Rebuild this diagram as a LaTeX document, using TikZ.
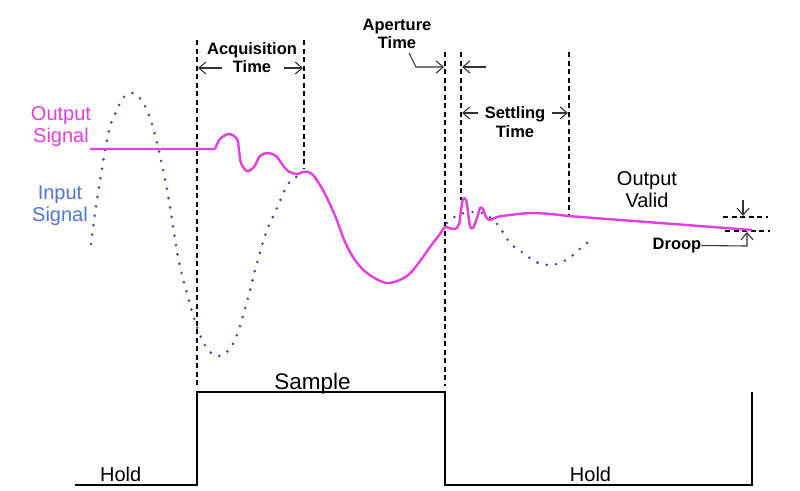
\documentclass[tikz,border=0pt]{standalone}
\usepackage{fontspec}
\setmainfont{Liberation Sans}
\usetikzlibrary{arrows.meta}
\definecolor{mag}{RGB}{226,62,226}
\definecolor{inblue}{RGB}{82,118,216}
\definecolor{dotc}{RGB}{70,72,160}
\begin{document}
\begin{tikzpicture}[x=1pt,y=-1pt,
  guide/.style={line width=1.7pt, dash pattern=on 5pt off 3.5pt},
  dim/.style={line width=1.1pt, draw=black!80, -{Straight Barb[length=7pt,width=12pt,line width=1.1pt]}},
  lbl/.style={font=\fontsize{16.5}{18.5}\selectfont\bfseries, align=center, inner sep=0pt},
  sig/.style={font=\fontsize{20}{22}\selectfont, align=center, inner sep=0pt},
  wave/.style={line width=1.6pt},
  outsig/.style={draw=mag, line width=2.4pt, line join=round},
  insig/.style={draw=dotc, line width=2.9pt, line cap=round, dash pattern=on 0pt off 9.5pt}]
\useasboundingbox[fill=white] (0,0) rectangle (800,490);

% guide lines
\coordinate (g1t) at (197,40);  \coordinate (g1b) at (197,385);
\coordinate (g2t) at (304,40);  \coordinate (g2b) at (304,168);
\coordinate (g3t) at (445,52);  \coordinate (g3b) at (445,386);
\coordinate (g4t) at (461,52);  \coordinate (g4b) at (461,200);
\coordinate (g5t) at (569,52);  \coordinate (g5b) at (569,216);
\coordinate (dr1a) at (723,217); \coordinate (dr1b) at (768,217);
\coordinate (dr2a) at (725,231); \coordinate (dr2b) at (770,231);
\foreach \a/\b in {g1t/g1b,g2t/g2b,g3t/g3b,g4t/g4b,g5t/g5b,dr1a/dr1b,dr2a/dr2b}
  \draw[guide] (\a) -- (\b);

% input signal (dotted)
\draw[insig] plot[smooth, tension=0.6] coordinates {
  (91,244) (97,200) (108,135) (116,112) (124,97) (133,93) (142,101) (150,118)
  (158,147) (168,195) (178,257) (188,297) (197,327) (206,347) (217,356) (229,350)
  (238,332) (248,298) (257,263) (266,233) (277,208) (288,184) (298,176)};
\draw[insig] plot[smooth, tension=0.6] coordinates {
  (447,223) (458,215) (472,212) (485,214) (498,225) (510,243) (522,252) (536,262)
  (548,265) (560,263) (572,256) (583,246) (592,239)};

% output signal
\draw[outsig] (90,149) -- (215,149) plot[smooth, tension=0.55] coordinates {
  (215,149) (220,139) (229,134) (237,139) (239,150) (241,163)
  (247,171) (254,167) (260,156) (268,153) (276,156)
  (282,164) (288,171) (297,174) (303,172) (308,172) (313,175) (320,185) (327,198)
  (336,218) (345,242) (355,260) (367,273) (387,283) (407,276) (420,261) (430,247)
  (440,234) (445,227) (449,228) (455,229) (459,224) (461,210) (463,199) (466,200)
  (468,212) (470,226) (473,228) (477,218) (480,208) (483,209) (486,217) (490,220)
  (497,217) (510,215) (530,213) (550,214) (568,216)} -- (752,230);

% square wave
\draw[wave] (75,485) -- (197,485) -- (197,392) -- (445,392) -- (445,485)
  -- (752,485) -- (752,392);

% labels
\node[lbl] (acq) at (252,57.5) {Acquisition\\Time};
\node[lbl] (ape) at (397,34) {Aperture\\Time};
\node[lbl] (set) at (515,122) {Settling\\Time};
\node[lbl, font=\fontsize{16.5}{18}\selectfont\bfseries] (droop) at (677,245.5) {Droop};
\node[sig, text=mag] (outl) at (61,127) {Output\\Signal};
\node[sig, text=inblue] (inl) at (60,206) {Input\\Signal};
\node[sig] (valid) at (647,190) {Output\\Valid};
\node[font=\fontsize{22.5}{24}\selectfont, inner sep=0pt, anchor=base] (samp) at (312.5,389) {Sample};
\node[font=\fontsize{20}{22}\selectfont, inner sep=0pt, anchor=base] (hold1) at (120.7,481.5) {Hold};
\node[font=\fontsize{20}{22}\selectfont, inner sep=0pt, anchor=base] (hold2) at (590.5,481.5) {Hold};

% dimension arrows
\coordinate (a1s) at (222,68); \coordinate (a1e) at (198,68);
\coordinate (a2s) at (284,68); \coordinate (a2e) at (303,68);
\draw[dim] (a1s) -- (a1e);
\draw[dim] (a2s) -- (a2e);
\coordinate (p1) at (409,53); \coordinate (p2) at (416,67); \coordinate (p3) at (444,67);
\draw[dim] (p1) -- (p2) -- (p3);
\coordinate (q1) at (486,67); \coordinate (q2) at (462,67);
\draw[dim] (q1) -- (q2);
\coordinate (s1) at (478,113); \coordinate (s2) at (462,113);
\coordinate (s3) at (552,113); \coordinate (s4) at (568,113);
\draw[dim] (s1) -- (s2);
\draw[dim] (s3) -- (s4);
\coordinate (d1) at (743,200); \coordinate (d2) at (743,216);
\draw[dim] (d1) -- (d2);
\coordinate (e1) at (747,246); \coordinate (e2) at (747,232);
\draw[dim] (droop.east) -- (e1) -- (e2);
\end{tikzpicture}
\end{document}
